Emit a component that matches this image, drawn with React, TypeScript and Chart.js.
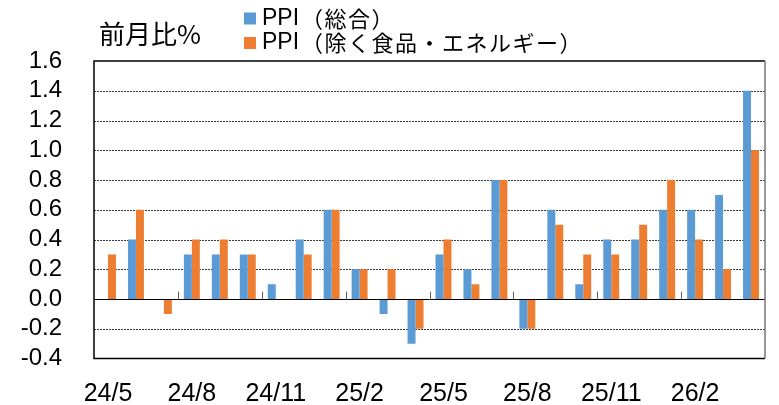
import React, { useEffect, useRef } from 'react';
import { Chart, registerables } from 'chart.js';

Chart.register(...registerables);

const categories = ['24/5','24/6','24/7','24/8','24/9','24/10','24/11','24/12','25/1','25/2','25/3','25/4','25/5','25/6','25/7','25/8','25/9','25/10','25/11','25/12','26/1','26/2','26/3','26/4'];
const ppiTotal = [0, 0.4, 0, 0.3, 0.3, 0.3, 0.1, 0.4, 0.6, 0.2, -0.1, -0.3, 0.3, 0.2, 0.8, -0.2, 0.6, 0.1, 0.4, 0.4, 0.6, 0.6, 0.7, 1.4];
const ppiCore = [0.3, 0.6, -0.1, 0.4, 0.4, 0.3, 0, 0.3, 0.6, 0.2, 0.2, -0.2, 0.4, 0.1, 0.8, -0.2, 0.5, 0.3, 0.3, 0.5, 0.8, 0.4, 0.2, 1.0];
const seriesNames = ['PPI（総合）', 'PPI（除く食品・エネルギー）'];
const seriesColors = ['#5B9BD5', '#ED7D31'];
const yTitle = '前月比%';
const yMin = -0.4;
const yMax = 1.6;
const yStep = 0.2;
const labelEvery = 3;

const LATIN = '"Liberation Sans", Arial, "Noto Sans CJK JP", sans-serif';
const CJK = '"Noto Sans CJK JP", sans-serif';

const decorPlugin = {
  id: 'decor',
  beforeDatasetsDraw(chart: any) {
    const { ctx, chartArea: a, scales } = chart;
    const y = scales.y;
    ctx.save();
    ctx.strokeStyle = '#3a3a3a';
    ctx.lineWidth = 1;
    ctx.setLineDash([2, 1]);
    for (let v = yMin + yStep; v < yMax - 1e-6; v += yStep) {
      if (Math.abs(v) < 1e-6) continue;
      const py = Math.round(y.getPixelForValue(v)) + 0.5;
      ctx.beginPath();
      ctx.moveTo(a.left, py);
      ctx.lineTo(a.right, py);
      ctx.stroke();
    }
    ctx.restore();
  },
  afterDatasetsDraw(chart: any) {
    const { ctx, chartArea: a, scales } = chart;
    const y = scales.y;
    const x = scales.x;
    ctx.save();
    const y0 = Math.round(y.getPixelForValue(0)) + 0.5;
    ctx.strokeStyle = '#000';
    ctx.lineWidth = 1;
    ctx.beginPath();
    ctx.moveTo(a.left, y0);
    ctx.lineTo(a.right, y0);
    ctx.stroke();
    ctx.strokeStyle = '#666';
    for (let k = labelEvery; k < categories.length; k += labelEvery) {
      const px = Math.round(x.getPixelForValue(k - 0.5)) + 0.5;
      ctx.beginPath();
      ctx.moveTo(px, y0 - 8);
      ctx.lineTo(px, y0);
      ctx.stroke();
    }
    ctx.strokeStyle = '#000';
    ctx.lineWidth = 1.5;
    ctx.beginPath();
    ctx.moveTo(a.right, a.top);
    ctx.lineTo(a.left, a.top);
    ctx.lineTo(a.left, a.bottom);
    ctx.lineTo(a.right, a.bottom);
    ctx.stroke();
    ctx.strokeStyle = '#777';
    ctx.beginPath();
    ctx.moveTo(a.right, a.top);
    ctx.lineTo(a.right, a.bottom);
    ctx.stroke();
    ctx.restore();
  },
  afterDraw(chart: any) {
    const { ctx } = chart;
    ctx.save();
    ctx.fillStyle = '#000';
    ctx.textBaseline = 'middle';
    ctx.textAlign = 'left';
    ctx.font = '26px ' + CJK;
    ctx.fillText(yTitle, 99, 34);
    const rows = [17.5, 42];
    seriesNames.forEach((name, i) => {
      ctx.fillStyle = seriesColors[i];
      ctx.fillRect(244, rows[i] - 5, 12, 12);
      ctx.fillStyle = '#000';
      const cut = name.indexOf('（');
      const head = name.slice(0, cut);
      const tail = name.slice(cut);
      ctx.font = '23px ' + LATIN;
      (ctx as any).letterSpacing = '0px';
      ctx.fillText(head, 262, rows[i] + 1);
      const w = ctx.measureText(head).width;
      ctx.font = '22px ' + CJK;
      (ctx as any).letterSpacing = '1.5px';
      ctx.fillText(tail, 262 + w + 2, rows[i] + 1);
      (ctx as any).letterSpacing = '0px';
    });
    ctx.restore();
  },
};

export default function App() {
  const ref = useRef<HTMLCanvasElement>(null);
  useEffect(() => {
    if (!ref.current) return;
    const chart = new Chart(ref.current, {
      type: 'bar',
      data: {
        labels: categories,
        datasets: [
          { label: seriesNames[0], data: ppiTotal, backgroundColor: seriesColors[0], categoryPercentage: 0.57, barPercentage: 1.0 },
          { label: seriesNames[1], data: ppiCore, backgroundColor: seriesColors[1], categoryPercentage: 0.57, barPercentage: 1.0 },
        ],
      },
      options: {
        responsive: false,
        animation: false,
        devicePixelRatio: 1,
        layout: { padding: { top: 61, right: 14, left: 0, bottom: 0 } },
        plugins: { legend: { display: false }, tooltip: { enabled: false } },
        scales: {
          x: {
            grid: { display: false, drawTicks: false },
            border: { display: false },
            ticks: {
              autoSkip: false,
              maxRotation: 0,
              padding: 21,
              color: '#000',
              font: { family: LATIN, size: 25 },
              callback: (_v: any, i: number) => (i % labelEvery === 0 ? categories[i] : ''),
            },
            afterFit: (s: any) => { s.height = 45; },
          },
          y: {
            min: yMin,
            max: yMax,
            grid: { display: false, drawTicks: false },
            border: { display: false },
            ticks: {
              stepSize: yStep,
              padding: 32,
              color: '#000',
              font: { family: LATIN, size: 24 },
              callback: (v: any) => Number(v).toFixed(1),
            },
            afterFit: (s: any) => { s.width = 94; },
          },
        },
      },
      plugins: [decorPlugin],
    });
    return () => chart.destroy();
  }, []);
  return (
    <div style={{ position: 'fixed', left: 0, top: 0, width: 779, height: 405, background: '#fff' }}>
      <canvas ref={ref} width={779} height={405} style={{ width: 779, height: 405, display: 'block' }} />
    </div>
  );
}
